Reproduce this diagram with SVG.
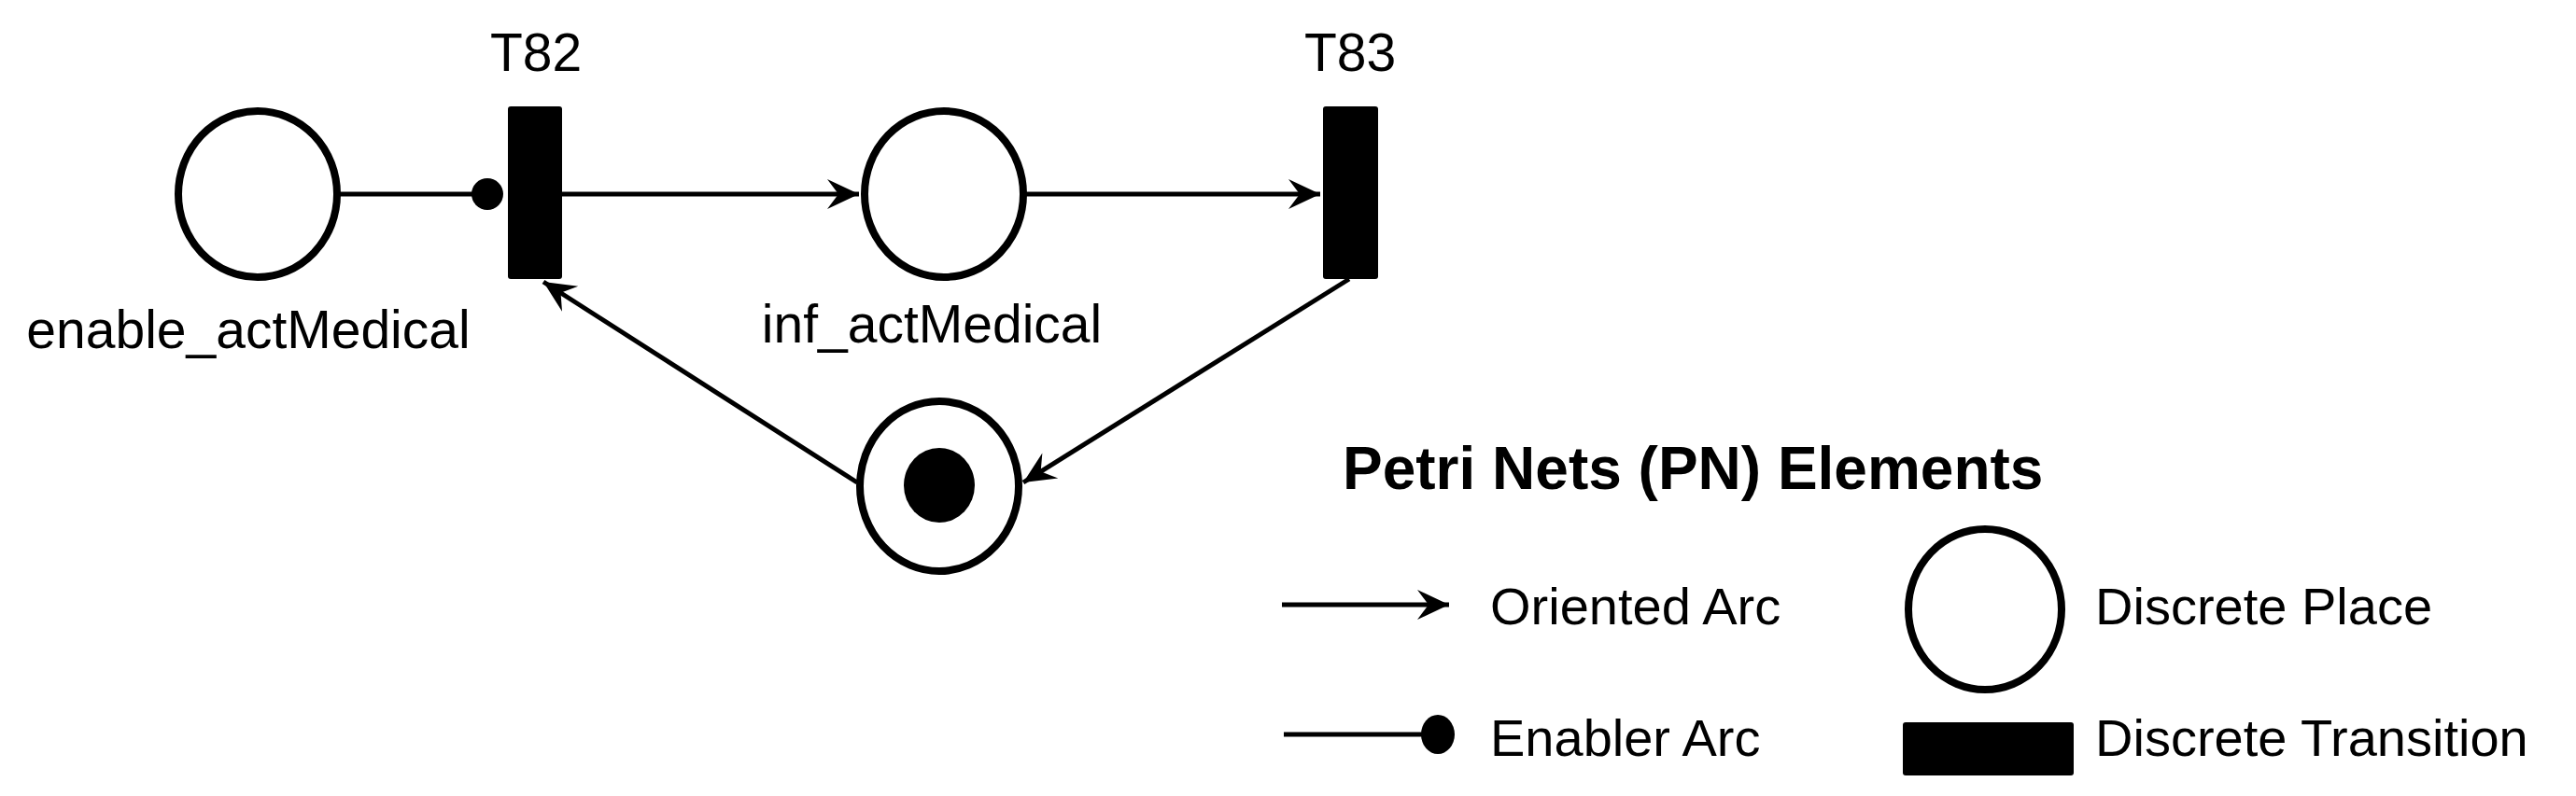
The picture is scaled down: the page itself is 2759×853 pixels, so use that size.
<svg xmlns="http://www.w3.org/2000/svg" width="2759" height="853" viewBox="0 0 2759 853">
<style>
.pl{fill:#fff;stroke:#000;stroke-width:8}
.tr{fill:#000}
.arc{stroke:#000;stroke-width:5;fill:none}
text{font-family:"Liberation Sans",Arial,sans-serif;font-size:57px;fill:#000}
.lg{font-size:56px}
.ttl{font-size:64px;font-weight:bold}
</style>
<defs>
<marker id="ah" markerUnits="userSpaceOnUse" markerWidth="40" markerHeight="40" viewBox="-36 -18 40 36" refX="0" refY="0" orient="auto">
<path d="M0,0 L-34,-16 L-22,0 L-34,16 Z" fill="#000"/>
</marker>
</defs>
<g id="connectors">
<line class="arc" x1="364" y1="208" x2="510" y2="208"/>
<circle cx="522" cy="208" r="17" fill="#000"/>
<line class="arc" x1="602" y1="208" x2="920" y2="208" marker-end="url(#ah)"/>
<line class="arc" x1="1099" y1="208" x2="1414" y2="208" marker-end="url(#ah)"/>
<line class="arc" x1="1445" y1="299" x2="1096" y2="517" marker-end="url(#ah)"/>
<line class="arc" x1="918" y1="517" x2="582" y2="302" marker-end="url(#ah)"/>
</g>
<g id="enable_actMedical"><ellipse class="pl" cx="276" cy="208" rx="85" ry="89"/><text x="266" y="373" text-anchor="middle">enable_actMedical</text></g>
<g id="T82"><rect class="tr" x="544" y="114" width="58" height="185" rx="3"/><text x="574" y="76" text-anchor="middle">T82</text></g>
<g id="inf_actMedical"><ellipse class="pl" cx="1011" cy="208" rx="85" ry="89"/><text x="998" y="367" text-anchor="middle">inf_actMedical</text></g>
<g id="T83"><rect class="tr" x="1417" y="114" width="59" height="185" rx="3"/><text x="1446" y="76" text-anchor="middle">T83</text></g>
<g id="marked"><ellipse class="pl" cx="1006" cy="521" rx="85" ry="91"/><ellipse cx="1006" cy="520" rx="38" ry="40" fill="#000"/></g>
<g id="legend">
<text class="ttl" x="1438" y="524">Petri Nets (PN) Elements</text>
<line class="arc" x1="1373" y1="648" x2="1552" y2="648" marker-end="url(#ah)"/>
<text class="lg" x="1596" y="669">Oriented Arc</text>
<ellipse class="pl" cx="2126" cy="653" rx="82" ry="86"/>
<text class="lg" x="2244" y="669">Discrete Place</text>
<line class="arc" x1="1375" y1="787" x2="1525" y2="787"/>
<ellipse cx="1540" cy="787" rx="18" ry="21" fill="#000"/>
<text class="lg" x="1596" y="810">Enabler Arc</text>
<rect class="tr" x="2038" y="774" width="183" height="57" rx="3"/>
<text class="lg" x="2244" y="810">Discrete Transition</text>
</g>
</svg>
